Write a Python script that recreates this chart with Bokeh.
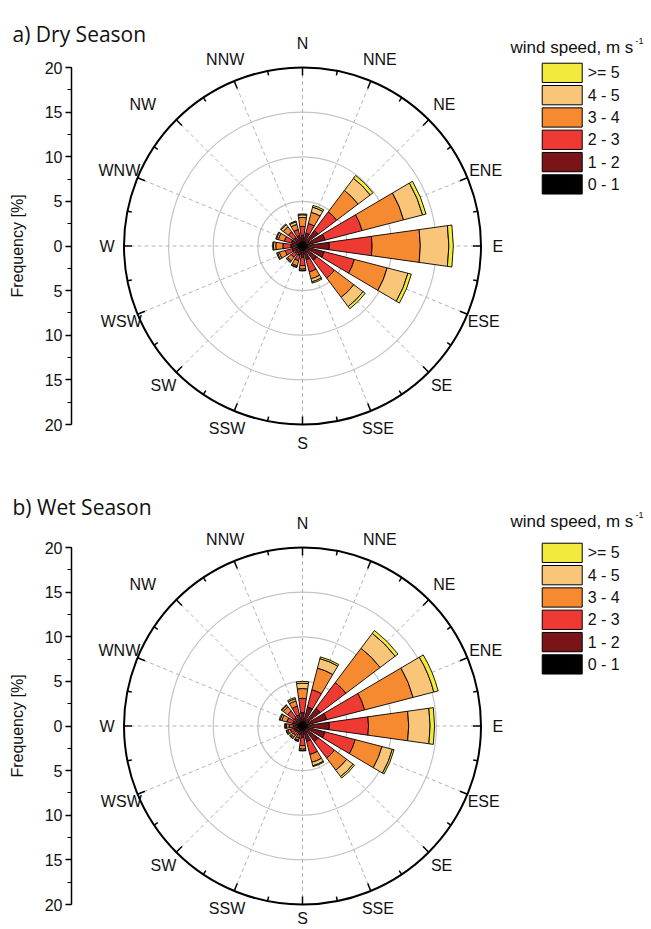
import math
import numpy as np
from bokeh.plotting import figure
from bokeh.models import Range1d, LinearAxis, FixedTicker, CustomJSTickFormatter, Label
from bokeh.layouts import column
from bokeh.core.properties import value
from bokeh.embed import file_html
from bokeh.resources import INLINE

# ---------------- data ----------------
directions = ["N", "NNE", "NE", "ENE", "E", "ESE", "SE", "SSE",
              "S", "SSW", "SW", "WSW", "W", "WNW", "NW", "NNW"]
speed_labels = ["0 - 1", "1 - 2", "2 - 3", "3 - 4", "4 - 5", ">= 5"]
speed_colors = ["#000000", "#7a1418", "#ee3a33", "#f68a30", "#f9c679", "#f2ea3c"]
freq_ticks = [-20, -15, -10, -5, 0, 5, 10, 15, 20]

# Dry season: frequency [%] of each speed class per direction
dry_0_1 = [0.5, 0.5, 0.5, 0.5, 0.5, 0.5, 0.5, 0.5, 0.5, 0.5, 0.5, 0.5, 0.5, 0.5, 0.5, 0.5]
dry_1_2 = [0.7, 1.0, 1.7, 2.1, 2.5, 2.0, 1.5, 1.1, 0.8, 0.6, 0.6, 0.7, 0.8, 0.8, 0.7, 0.7]
dry_2_3 = [1.0, 1.1, 2.6, 4.3, 4.8, 3.5, 2.5, 1.4, 0.9, 0.6, 0.5, 0.8, 0.9, 0.8, 0.8, 0.7]
dry_3_4 = [1.0, 1.3, 3.0, 4.8, 5.4, 3.8, 2.7, 0.8, 0.4, 0.6, 0.5, 0.7, 0.8, 0.7, 0.7, 0.6]
dry_4_5 = [0.3, 0.6, 1.7, 2.2, 3.2, 2.4, 1.3, 0.35, 0.15, 0.15, 0.15, 0.2, 0.25, 0.2, 0.3, 0.3]
dry_5up = [0.1, 0.2, 0.4, 0.4, 0.5, 0.4, 0.3, 0.15, 0.05, 0.05, 0.05, 0.1, 0.1, 0.1, 0.1, 0.1]

# Wet season
wet_0_1 = [0.5, 0.5, 0.5, 0.5, 0.5, 0.5, 0.5, 0.5, 0.5, 0.5, 0.5, 0.5, 0.5, 0.5, 0.5, 0.5]
wet_1_2 = [1.0, 1.7, 2.0, 2.3, 2.5, 2.1, 1.7, 1.3, 0.8, 0.5, 0.4, 0.5, 0.5, 0.6, 0.7, 0.8]
wet_2_3 = [1.6, 2.0, 3.6, 4.4, 4.4, 3.5, 2.3, 1.5, 0.9, 0.4, 0.4, 0.4, 0.5, 0.7, 0.9, 1.0]
wet_3_4 = [1.1, 2.5, 4.8, 5.6, 4.5, 3.1, 1.7, 0.9, 0.4, 0.25, 0.3, 0.3, 0.3, 0.6, 0.6, 0.6]
wet_4_5 = [0.6, 1.1, 2.1, 2.4, 2.4, 1.2, 0.9, 0.4, 0.15, 0.1, 0.15, 0.15, 0.15, 0.2, 0.2, 0.25]
wet_5up = [0.2, 0.2, 0.4, 0.5, 0.5, 0.2, 0.2, 0.1, 0.05, 0.05, 0.05, 0.05, 0.05, 0.1, 0.1, 0.15]

dry_bins = [dry_0_1, dry_1_2, dry_2_3, dry_3_4, dry_4_5, dry_5up]
wet_bins = [wet_0_1, wet_1_2, wet_2_3, wet_3_4, wet_4_5, wet_5up]

# ---------------- layout constants ----------------
PX = 8.925            # pixels per 1 % frequency
FIG_W = 650
CX = 302              # screen x of rose centre
AXIS_X = 71           # screen x of frequency axis line
RMAX = 20
FONT = "Liberation Sans"
BAR_W = math.radians(16.0)


def make_panel(title, bins, height, cy, title_y, legend_title_y, s_radius):
    # whole figure is the frame; data unit = % frequency
    x0 = -CX / PX
    x1 = (FIG_W - CX) / PX
    y0 = -(height - cy) / PX
    y1 = cy / PX
    p = figure(width=FIG_W, height=height,
               x_range=Range1d(x0, x1), y_range=Range1d(y0, y1),
               output_backend="svg", toolbar_location=None,
               x_axis_type=None, y_axis_type=None,
               min_border_left=0, min_border_right=0,
               min_border_top=0, min_border_bottom=0,
               outline_line_color=None,
               background_fill_color="white", border_fill_color="white")
    p.xgrid.visible = False
    p.ygrid.visible = False

    n = len(directions)
    theta = np.radians(90.0 - 22.5 * np.arange(n))

    # grid circles
    for r in (5, 10, 15):
        p.circle(x=0, y=0, radius=r, fill_color=None, line_color="#c4c4c4", line_width=1.2)
    # spokes
    p.segment(x0=np.zeros(n), y0=np.zeros(n), x1=RMAX * np.cos(theta), y1=RMAX * np.sin(theta),
              line_color="#b4b4b4", line_width=1, line_dash="4 3")

    # stacked bars
    cum = np.zeros(n)
    for vals, col in zip(bins, speed_colors):
        v = np.array(vals, dtype=float)
        p.annular_wedge(x=np.zeros(n), y=np.zeros(n), inner_radius=cum.copy(), outer_radius=cum + v,
                        start_angle=theta - BAR_W / 2, end_angle=theta + BAR_W / 2,
                        fill_color=col, line_color="black", line_width=0.9)
        cum = cum + v

    # outer circle with inward ticks
    p.circle(x=0, y=0, radius=RMAX, fill_color=None, line_color="black", line_width=2)
    ta = np.radians(90.0 - 11.25 * np.arange(32))
    tl = np.where(np.arange(32) % 2 == 0, 0.9, 0.5)
    p.segment(x0=RMAX * np.cos(ta), y0=RMAX * np.sin(ta),
              x1=(RMAX - tl) * np.cos(ta), y1=(RMAX - tl) * np.sin(ta),
              line_color="black", line_width=1.5)

    # compass labels
    s = np.sin(theta)
    rl = 21.9 + 0.5 * np.abs(s) + 0.3 * s
    rl[directions.index("S")] = s_radius
    lx = rl * np.cos(theta)
    lx[directions.index("NW")] -= 2.0
    p.text(x=lx, y=rl * s, text=directions,
           text_align="center", text_baseline="middle",
           text_font=value(FONT), text_font_size="16px", text_color="#111111")

    # frequency axis (fixed inside the frame)
    ax = LinearAxis(ticker=FixedTicker(ticks=freq_ticks,
                                       minor_ticks=list(np.arange(-20, 20.01, 2.5))),
                    formatter=CustomJSTickFormatter(code="return Math.abs(tick).toString();"),
                    bounds=(-20, 20), axis_label="Frequency [%]",
                    fixed_location=(AXIS_X - CX) / PX)
    ax.axis_line_width = 1.5
    ax.major_tick_line_width = 1.3
    ax.minor_tick_line_width = 1.0
    ax.major_tick_out = 6
    ax.major_tick_in = 0
    ax.minor_tick_out = 4
    ax.minor_tick_in = 0
    ax.major_label_standoff = 3
    ax.major_label_text_font = FONT
    ax.major_label_text_font_size = "16px"
    ax.major_label_text_color = "#111111"
    ax.axis_label_text_font = FONT
    ax.axis_label_text_font_size = "16px"
    ax.axis_label_text_font_style = "normal"
    ax.axis_label_text_color = "#111111"
    ax.axis_label_standoff = 16
    p.add_layout(ax, "left")

    # title
    p.add_layout(Label(x=(12 - CX) / PX, y=title_y, text=title,
                       text_font="Open Sans", text_font_size="21px", text_baseline="alphabetic",
                       text_color="#111111"))

    # legend
    p.add_layout(Label(x=(510 - CX) / PX, y=legend_title_y, text="wind speed, m s", text_font=FONT,
                       text_font_size="17px", text_baseline="alphabetic", text_color="#111111"))
    p.add_layout(Label(x=(635 - CX) / PX, y=legend_title_y + 6.5 / PX, text="-1", text_font=FONT,
                       text_font_size="9px", text_baseline="alphabetic", text_color="#111111"))
    top0 = 20.48
    pitch = 2.50
    bh = 2.16
    order = list(range(len(speed_labels)))[::-1]
    tops = np.array([top0 - i * pitch for i in range(len(order))])
    p.quad(left=26.86, right=31.34, top=tops, bottom=tops - bh,
           fill_color=[speed_colors[k] for k in order], line_color="black", line_width=1)
    p.text(x=np.full(len(order), 31.95), y=tops - bh / 2, text=[speed_labels[k] for k in order],
           text_align="left", text_baseline="middle",
           text_font=value(FONT), text_font_size="16px", text_color="#111111")
    return p


p1 = make_panel("a) Dry Season", dry_bins, 485, 245.5,
                (245.5 - 33.3) / PX, (245.5 - 46.5) / PX, 22.1)
p2 = make_panel("b) Wet Season", wet_bins, 444, 725.5 - 485,
                (725.5 - 506.7) / PX, (725.5 - 520.5) / PX, 21.55)

layout = column(p1, p2, spacing=0)
open("out.html", "w").write(file_html(layout, INLINE))
